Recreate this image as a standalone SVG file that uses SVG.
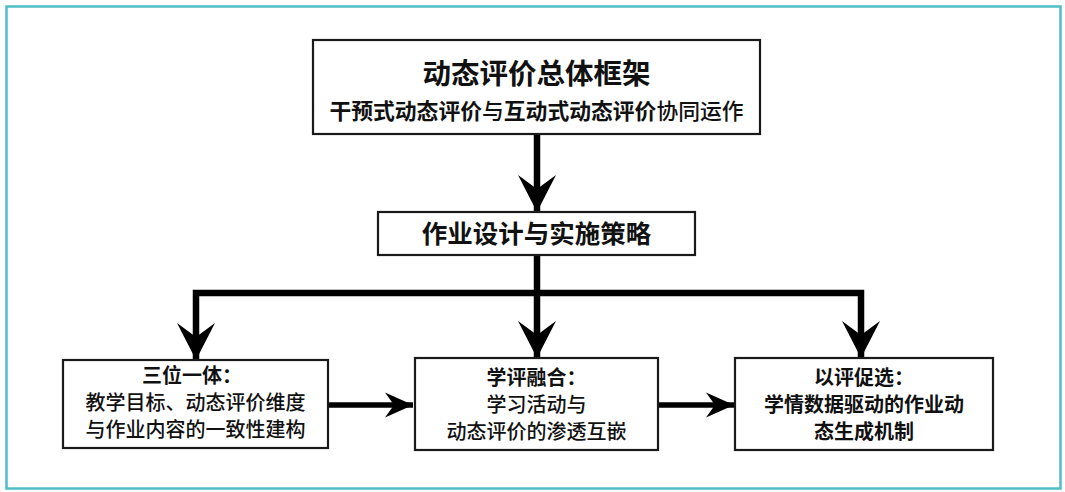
<svg xmlns="http://www.w3.org/2000/svg" width="1065" height="492" viewBox="0 0 1065 492">
<style>
.box{fill:#fff;stroke:#1a1a1a;stroke-width:2.2}
.t{font-family:"Noto Sans CJK SC","Noto Sans",sans-serif;fill:#111;text-anchor:middle}
.b{font-weight:bold}
.n{font-weight:500}
.c{fill:none;stroke:#000;stroke-width:6.5;stroke-linejoin:miter}
.h{fill:none;stroke:#000;stroke-width:5.5}
</style>
<defs>
<marker id="av" markerUnits="userSpaceOnUse" viewBox="-38 -20 38 40" refX="0" refY="0" markerWidth="38" markerHeight="40" orient="auto">
<path d="M0,0 L-37,-19 L-23,0 L-37,19 Z" fill="#000"/>
</marker>
<marker id="ah" markerUnits="userSpaceOnUse" viewBox="-30 -14 30 28" refX="0" refY="0" markerWidth="30" markerHeight="28" orient="auto">
<path d="M0,0 L-28,-12.5 L-19,0 L-28,12.5 Z" fill="#000"/>
</marker>
</defs>
<rect x="0" y="0" width="1065" height="492" fill="#fff"/>
<rect x="6.5" y="6.5" width="1054" height="482" fill="none" stroke="#4fbcc8" stroke-width="2.5"/>
<g id="connectors">
<path class="c" d="M537,134 V212" marker-end="url(#av)"/>
<path class="c" d="M537,255 V358" marker-end="url(#av)"/>
<path class="c" d="M540,293 H196 V360" marker-end="url(#av)"/>
<path class="c" d="M534,293 H861 V358" marker-end="url(#av)"/>
<path class="h" d="M328,405 H413" marker-end="url(#ah)"/>
<path class="h" d="M658,405 H734" marker-end="url(#ah)"/>
</g>
<g id="node-framework">
<rect class="box" x="313" y="40" width="447" height="94"/>
<text class="t b" x="536.5" y="84" font-size="28.5">动态评价总体框架</text>
<text class="t" x="536.5" y="119" font-size="21.8"><tspan class="b">干预式动态评价</tspan><tspan class="n">与</tspan><tspan class="b">互动式动态评价</tspan><tspan class="n">协同运作</tspan></text>
</g>
<g id="node-strategy">
<rect class="box" x="378" y="212" width="317" height="43"/>
<text class="t b" x="536.5" y="243" font-size="25.5">作业设计与实施策略</text>
</g>
<g id="node-trinity">
<rect class="box" x="63" y="360" width="265" height="88"/>
<text class="t b" x="192" y="383" font-size="20">三位一体：</text>
<text class="t n" x="195.5" y="410" font-size="20">教学目标、动态评价维度</text>
<text class="t n" x="195.5" y="437" font-size="20">与作业内容的一致性建构</text>
</g>
<g id="node-fusion">
<rect class="box" x="415" y="358" width="243" height="92"/>
<text class="t b" x="536.5" y="385" font-size="20">学评融合：</text>
<text class="t n" x="536.5" y="412" font-size="20">学习活动与</text>
<text class="t n" x="536.5" y="439" font-size="20">动态评价的渗透互嵌</text>
</g>
<g id="node-select">
<rect class="box" x="735" y="358" width="258" height="92"/>
<text class="t b" x="864" y="385" font-size="20">以评促选：</text>
<text class="t b" x="864" y="412" font-size="20">学情数据驱动的作业动</text>
<text class="t b" x="864" y="439" font-size="20">态生成机制</text>
</g>
</svg>
